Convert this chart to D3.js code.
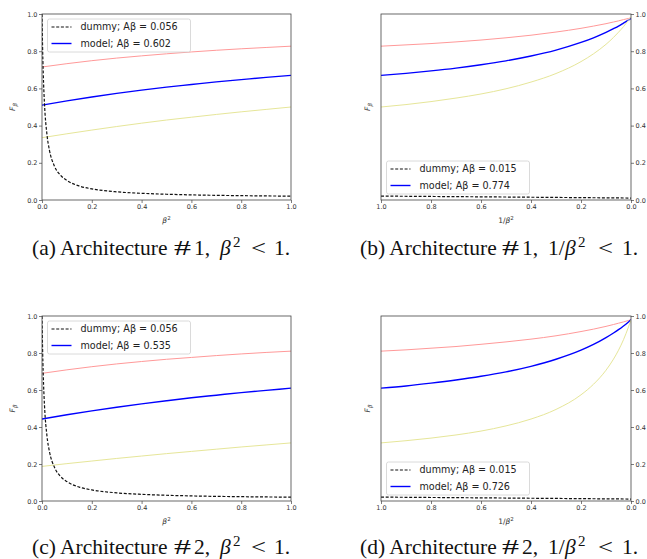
<!DOCTYPE html>
<html>
  <head>
    <style>
      body,
      html {
        margin: 0;
        padding: 0;
        background: #fff;
      }
      svg {
        display: block;
      }
      .tick text {
        font-family: 'DejaVu Sans', sans-serif;
        font-size: 6.5px;
        fill: #333;
      }
      .cap {
        font-family: 'Liberation Serif', 'Times New Roman', serif;
        font-size: 21.5px;
        fill: #111;
      }
    </style>
  </head>
  <body>
    <svg id="svg" width="647" height="559"></svg>
    <script src="https://cdn.jsdelivr.net/npm/d3@7"></script>
    <script>
      // values
      const betaSq = [0, 0.1, 0.2, 0.3, 0.4, 0.5, 0.6, 0.7, 0.8, 0.9, 1.0];
      const redA = [0.715, 0.733, 0.749, 0.763, 0.775, 0.786, 0.796, 0.805, 0.813, 0.82, 0.827];
      const blueA = [0.51, 0.533, 0.554, 0.573, 0.591, 0.607, 0.621, 0.635, 0.647, 0.659, 0.67];
      const yellowA = [0.335, 0.356, 0.376, 0.395, 0.413, 0.43, 0.445, 0.46, 0.474, 0.487, 0.5];
      const redC = [0.69, 0.709, 0.726, 0.741, 0.754, 0.766, 0.776, 0.786, 0.795, 0.803, 0.81];
      const blueC = [0.443, 0.466, 0.487, 0.507, 0.525, 0.542, 0.558, 0.572, 0.586, 0.598, 0.61];
      const yellowC = [0.187, 0.202, 0.216, 0.23, 0.243, 0.256, 0.268, 0.28, 0.292, 0.303, 0.314];

      const dummyBetaSq = [0, 0.002, 0.005, 0.01, 0.02, 0.03, 0.05, 0.075, 0.1, 0.15, 0.2, 0.3, 0.4, 0.5, 0.6, 0.7, 0.8, 0.9, 1.0];
      const dummyLow = [1.0, 0.842, 0.681, 0.517, 0.351, 0.267, 0.182, 0.132, 0.105, 0.075, 0.06, 0.044, 0.036, 0.031, 0.0275, 0.0251, 0.0233, 0.0219, 0.0208];

      const invBetaSq = [1, 0.9, 0.8, 0.7, 0.6, 0.5, 0.4, 0.3, 0.2, 0.15, 0.1, 0.07, 0.05, 0.03, 0.01, 0];
      const redB = [0.827, 0.834, 0.841, 0.85, 0.86, 0.872, 0.886, 0.903, 0.923, 0.935, 0.948, 0.957, 0.963, 0.97, 0.976, 0.98];
      const blueB = [0.67, 0.681, 0.694, 0.709, 0.727, 0.748, 0.774, 0.806, 0.847, 0.872, 0.901, 0.921, 0.935, 0.951, 0.967, 0.976];
      const yellowB = [0.5, 0.513, 0.529, 0.548, 0.57, 0.598, 0.634, 0.68, 0.744, 0.786, 0.837, 0.874, 0.902, 0.932, 0.967, 0.985];
      const redD = [0.81, 0.817, 0.826, 0.835, 0.847, 0.86, 0.875, 0.893, 0.916, 0.929, 0.944, 0.954, 0.961, 0.968, 0.976, 0.98];
      const blueD = [0.61, 0.622, 0.637, 0.654, 0.674, 0.698, 0.728, 0.766, 0.815, 0.846, 0.883, 0.908, 0.926, 0.946, 0.968, 0.98];
      const yellowD = [0.314, 0.326, 0.34, 0.357, 0.378, 0.406, 0.443, 0.495, 0.574, 0.631, 0.707, 0.767, 0.815, 0.872, 0.941, 0.98];

      const dummyInv = [1, 0.5, 0];
      const dummyHigh = [0.021, 0.016, 0.0105];

      const ticks = [0, 0.2, 0.4, 0.6, 0.8, 1.0];
      const legendA = ['dummy; Aβ = 0.056', 'model; Aβ = 0.602'];
      const legendB = ['dummy; Aβ = 0.015', 'model; Aβ = 0.774'];
      const legendC = ['dummy; Aβ = 0.056', 'model; Aβ = 0.535'];
      const legendD = ['dummy; Aβ = 0.015', 'model; Aβ = 0.726'];

      const zip = (xs, ys) => xs.map((x, i) => ({ x, y: ys[i] }));

      const panels = [
        {
          left: 42, top: 14, right: 291, bottom: 200, flipped: false, capGap: 55,
          red: zip(betaSq, redA), blue: zip(betaSq, blueA), yellow: zip(betaSq, yellowA),
          dummy: zip(dummyBetaSq, dummyLow), legend: legendA,
          caption: ['(a) Architecture', '1,'],
        },
        {
          left: 381, top: 14, right: 631, bottom: 200, flipped: true, capGap: 55,
          red: zip(invBetaSq, redB), blue: zip(invBetaSq, blueB), yellow: zip(invBetaSq, yellowB),
          dummy: zip(dummyInv, dummyHigh), legend: legendB,
          caption: ['(b) Architecture', '1,'],
        },
        {
          left: 42, top: 316, right: 291, bottom: 501, flipped: false, capGap: 53,
          red: zip(betaSq, redC), blue: zip(betaSq, blueC), yellow: zip(betaSq, yellowC),
          dummy: zip(dummyBetaSq, dummyLow), legend: legendC,
          caption: ['(c) Architecture', '2,'],
        },
        {
          left: 381, top: 316, right: 631, bottom: 501, flipped: true, capGap: 53,
          red: zip(invBetaSq, redD), blue: zip(invBetaSq, blueD), yellow: zip(invBetaSq, yellowD),
          dummy: zip(dummyInv, dummyHigh), legend: legendD,
          caption: ['(d) Architecture', '2,'],
        },
      ];

      const svg = d3.select('#svg');

      panels.forEach((p) => {
        const g = svg.append('g');
        const xScale = d3
          .scaleLinear()
          .domain(p.flipped ? [1, 0] : [0, 1])
          .range([p.left, p.right]);
        const yScale = d3.scaleLinear().domain([0, 1]).range([p.bottom, p.top]);
        const line = d3
          .line()
          .x((d) => xScale(d.x))
          .y((d) => yScale(d.y))
          .curve(d3.curveMonotoneX);

        const clipId = 'clip' + p.left + p.top;
        g.append('clipPath')
          .attr('id', clipId)
          .append('rect')
          .attr('x', p.left)
          .attr('y', p.top)
          .attr('width', p.right - p.left)
          .attr('height', p.bottom - p.top);

        const plot = g.append('g').attr('clip-path', `url(#${clipId})`);
        plot.append('path').attr('d', line(p.red)).attr('fill', 'none')
          .attr('stroke', '#ff9999').attr('stroke-width', 1);
        plot.append('path').attr('d', line(p.blue)).attr('fill', 'none')
          .attr('stroke', '#0000ff').attr('stroke-width', 1.4);
        plot.append('path').attr('d', line(p.yellow)).attr('fill', 'none')
          .attr('stroke', '#e6e699').attr('stroke-width', 1);
        plot.append('path').attr('d', line(p.dummy)).attr('fill', 'none')
          .attr('stroke', '#111').attr('stroke-width', 1.2)
          .attr('stroke-dasharray', '3,1.7');

        // axes
        const xAxis = d3.axisBottom(xScale).tickValues(ticks).tickFormat(d3.format('.1f'))
          .tickSize(3).tickPadding(1.5);
        const yAxis = (p.flipped ? d3.axisRight(yScale) : d3.axisLeft(yScale))
          .tickValues(ticks).tickFormat(d3.format('.1f')).tickSize(3).tickPadding(1.5);
        const gx = g.append('g').attr('transform', `translate(0,${p.bottom})`).call(xAxis);
        const gy = g.append('g')
          .attr('transform', `translate(${p.flipped ? p.right : p.left},0)`)
          .call(yAxis);
        [gx, gy].forEach((a) => {
          a.select('.domain').remove();
          a.selectAll('.tick line').attr('stroke', '#444').attr('stroke-width', 0.7);
        });
        g.append('rect')
          .attr('x', p.left).attr('y', p.top)
          .attr('width', p.right - p.left).attr('height', p.bottom - p.top)
          .attr('fill', 'none').attr('stroke', '#444').attr('stroke-width', 0.8);

        // axis labels
        const xl = g.append('text')
          .attr('x', (p.left + p.right) / 2)
          .attr('y', p.bottom + 23)
          .attr('text-anchor', 'middle')
          .style('font-family', 'DejaVu Sans, sans-serif')
          .style('font-size', '7.5px')
          .attr('fill', '#333');
        if (p.flipped) xl.append('tspan').text('1/');
        xl.append('tspan').style('font-style', 'italic').text('β');
        xl.append('tspan').attr('dy', -3).style('font-size', '5.5px').text('2');

        const ylx = p.flipped ? p.left - 11 : p.left - 27;
        const yl = g.append('text')
          .attr('transform', `translate(${ylx},${(p.top + p.bottom) / 2}) rotate(-90)`)
          .attr('text-anchor', 'middle')
          .style('font-family', 'DejaVu Sans, sans-serif')
          .style('font-size', '7.5px')
          .attr('fill', '#333');
        yl.append('tspan').style('font-style', 'italic').text('F');
        yl.append('tspan').attr('dy', 2).style('font-size', '5.5px')
          .style('font-style', 'italic').text('β');

        // legend
        const lw = 143;
        const lh = 33;
        const lx = p.left + 5.5;
        const ly = p.flipped ? p.bottom - 39 : p.top + 5;
        const leg = g.append('g').attr('transform', `translate(${lx},${ly})`);
        leg.append('rect')
          .attr('width', lw).attr('height', lh).attr('rx', 2)
          .attr('fill', '#fff').attr('fill-opacity', 0.8)
          .attr('stroke', '#d0d0d0').attr('stroke-width', 0.8);
        p.legend.forEach((label, i) => {
          const cy = 8 + i * 16.5;
          leg.append('line')
            .attr('x1', 4).attr('x2', 24).attr('y1', cy).attr('y2', cy)
            .attr('stroke', i === 0 ? '#111' : '#0000ff')
            .attr('stroke-width', i === 0 ? 1.2 : 1.4)
            .attr('stroke-dasharray', i === 0 ? '3,1.7' : null);
          leg.append('text')
            .attr('x', 33).attr('y', cy).attr('dy', '0.35em')
            .style('font-family', 'DejaVu Sans, sans-serif')
            .style('font-size', '9.6px')
            .attr('fill', '#222')
            .text(label);
        });

        // caption, laid out piece by piece like the LaTeX original
        const cs = p.flipped ? p.left - 21 : p.left - 10;
        const cap = svg.append('g').attr('class', 'cap')
          .attr('transform', `translate(${cs},${p.bottom + p.capGap})`);
        cap.append('text').text(p.caption[0]);
        cap.append('text').attr('x', 142).text('#')
          .attr('textLength', 17).attr('lengthAdjust', 'spacingAndGlyphs');
        cap.append('text').attr('x', 162).text(p.caption[1]);
        const bx = p.flipped ? 205 : 188;
        const ms = p.flipped ? 2 : 0;
        if (p.flipped) cap.append('text').attr('x', 188).text('1/');
        cap.append('text').attr('x', bx).style('font-style', 'italic').text('β');
        cap.append('text').attr('x', bx + 13).attr('y', -8).style('font-size', '15px').text('2');
        cap.append('text').attr('x', bx + 31 + ms).text('<')
          .attr('textLength', 15).attr('lengthAdjust', 'spacingAndGlyphs');
        cap.append('text').attr('x', bx + 54 + ms * 1.5).text('1.');
      });
    </script>
  </body>
</html>
